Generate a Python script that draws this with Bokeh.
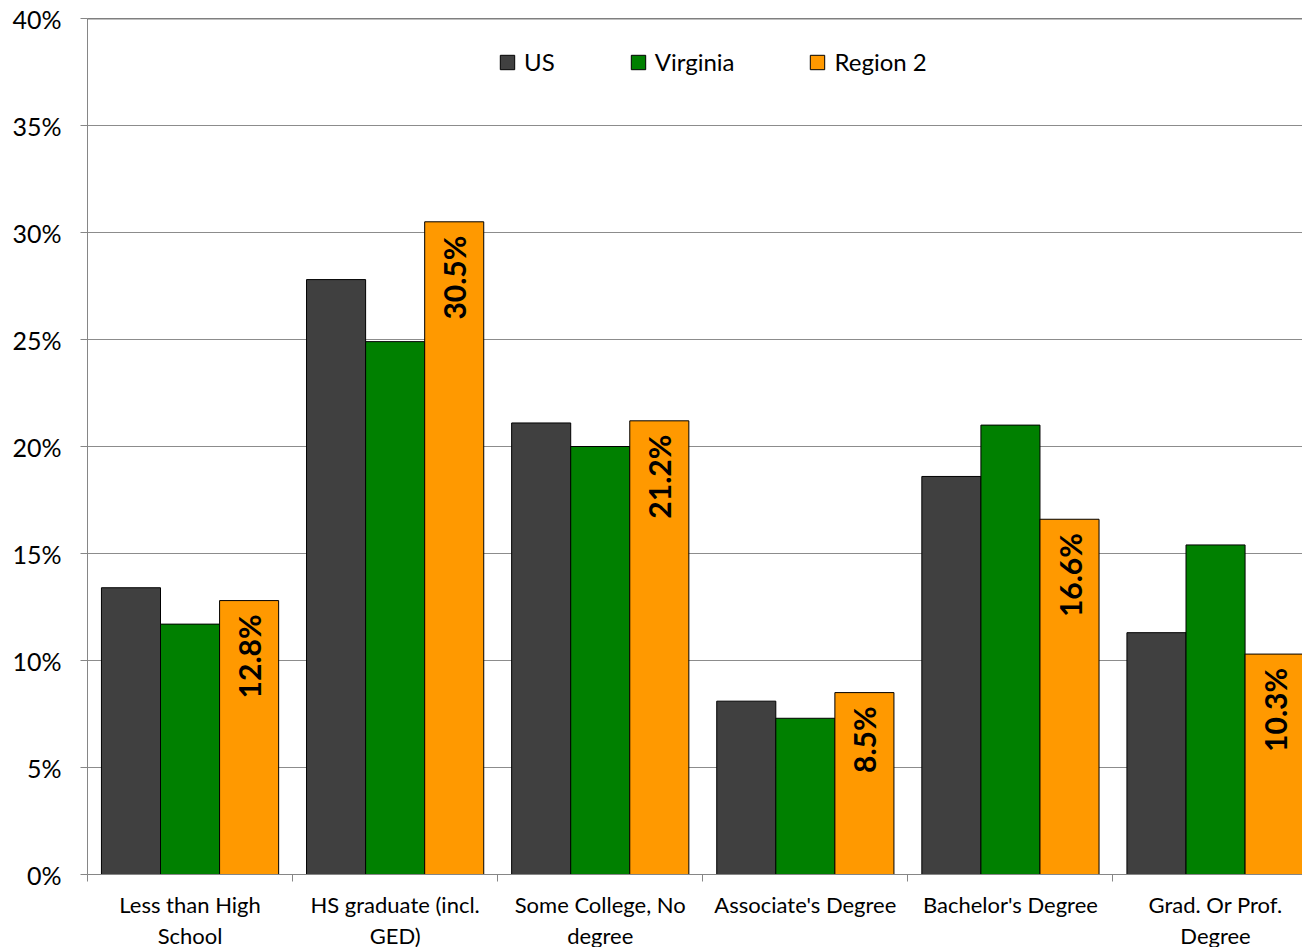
import math
from bokeh.plotting import figure
from bokeh.models import FixedTicker, PrintfTickFormatter, Span, Range1d, ColumnDataSource
from bokeh.core.properties import value
from bokeh.embed import file_html
from bokeh.resources import INLINE

categories = ["Less than High\nSchool", "HS graduate (incl.\nGED)", "Some College, No\ndegree",
              "Associate's Degree", "Bachelor's Degree", "Grad. Or Prof.\nDegree"]
us = [13.4, 27.8, 21.1, 8.1, 18.6, 11.3]
virginia = [11.7, 24.9, 20.0, 7.3, 21.0, 15.4]
region2 = [12.8, 30.5, 21.2, 8.5, 16.6, 10.3]
series_names = ["US", "Virginia", "Region 2"]
y_ticks = [0, 5, 10, 15, 20, 25, 30, 35, 40]

colors = ["#404040", "#008000", "#FF9900"]
FONT = "Lato"
BW = 0.288

pos = [i + 1 for i in range(len(categories))]
bounds = [i + 0.5 for i in range(len(categories))]

p = figure(frame_width=1215, frame_height=856, output_backend="svg", toolbar_location=None,
           x_range=Range1d(0.5, 6.424), y_range=Range1d(0, 40),
           min_border_left=87, min_border_right=0, min_border_top=18, min_border_bottom=60)
p.outline_line_color = None
p.background_fill_color = "white"
p.border_fill_color = "white"

for k, (vals, name) in enumerate(zip([us, virginia, region2], series_names)):
    xs = [x + (k - 1) * BW for x in pos]
    src = ColumnDataSource(dict(x=xs, top=vals))
    p.vbar(x="x", top="top", width=BW, bottom=0, source=src, fill_color=colors[k],
           line_color="black", line_width=1, legend_label=name)

# data labels on Region 2
lab_src = ColumnDataSource(dict(x=[x + BW for x in pos], y=[v - 0.65 for v in region2],
                                t=["%.1f%%" % v for v in region2]))
p.text(x="x", y="y", text="t", source=lab_src, angle=math.pi / 2, text_align="right",
       text_baseline="middle", text_font=value(FONT), text_font_style="bold",
       text_font_size="30px", text_color="black")

p.add_layout(Span(location=y_ticks[-1], dimension="width", line_color="black", line_width=1.5))

# y axis
p.yaxis.ticker = FixedTicker(ticks=y_ticks)
p.yaxis.formatter = PrintfTickFormatter(format="%d%%")
p.yaxis.axis_line_color = "#868686"
p.yaxis.major_tick_line_color = "#868686"
p.yaxis.major_tick_out = 7
p.yaxis.major_tick_in = 0
p.yaxis.minor_tick_line_color = None
p.yaxis.major_label_standoff = 19
p.yaxis.major_label_text_font = FONT
p.yaxis.major_label_text_font_size = "25px"
p.yaxis.major_label_text_color = "black"

# x axis
p.xaxis.ticker = FixedTicker(ticks=pos, minor_ticks=bounds)
p.xaxis.major_label_overrides = {x: c for x, c in zip(pos, categories)}
p.xaxis.axis_line_color = "#868686"
p.xaxis.major_tick_line_color = None
p.xaxis.minor_tick_line_color = "#868686"
p.xaxis.minor_tick_out = 7
p.xaxis.minor_tick_in = 0
p.xaxis.major_label_standoff = 9
p.xaxis.major_label_text_font = FONT
p.xaxis.major_label_text_font_size = "22px"
p.xaxis.major_label_text_color = "black"
p.xaxis.major_label_text_line_height = 1.15

p.xgrid.grid_line_color = None
p.ygrid.ticker = FixedTicker(ticks=y_ticks)
p.ygrid.grid_line_color = "#8c8c8c"

lg = p.legend[0]
lg.orientation = "horizontal"
lg.location = (411, 798)
lg.padding = 0
lg.margin = 0
lg.spacing = 74
lg.glyph_width = 18
lg.glyph_height = 18
lg.label_standoff = 8
lg.border_line_color = None
lg.background_fill_alpha = 0
lg.label_text_font = FONT
lg.label_text_font_size = "24px"
lg.label_text_color = "black"

open("out.html", "w").write(file_html(p, INLINE))
